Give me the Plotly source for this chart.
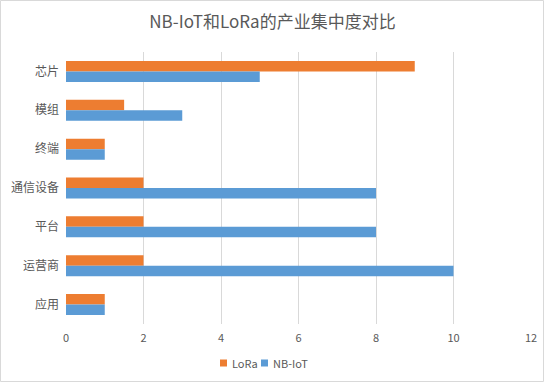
import plotly.graph_objects as go

categories = ["芯片", "模组", "终端", "通信设备", "平台", "运营商", "应用"]
lora = [9, 1.5, 1, 2, 2, 2, 1]
nbiot = [5, 3, 1, 8, 8, 10, 1]
x_ticks = [0, 2, 4, 6, 8, 10, 12]
series_names = ["LoRa", "NB-IoT"]
series_colors = ["#ED7D31", "#5B9BD5"]

W, H = 545, 383
ml, mr, mt, mb = 66, 14, 52, 59
pw, ph = W - ml - mr, H - mt - mb

font = "Noto Sans CJK SC, Noto Sans, sans-serif"
fig = go.Figure()
for name, vals, col in zip(series_names, [lora, nbiot], series_colors):
    fig.add_trace(go.Bar(y=categories, x=vals, orientation="h", name=name,
                         marker=dict(color=col, line=dict(width=0))))

def px_x(p):
    return (p - ml) / pw

def px_y(p):
    return 1 - (p - mt) / ph

legend_y = 363
shapes = [dict(type="rect", xref="paper", yref="paper",
               x0=px_x(0.5), x1=px_x(W - 1.5), y0=px_y(H - 1.5), y1=px_y(0.5),
               line=dict(color="#d9d9d9", width=1), layer="below")]
annotations = []
leg_x = [220, 261]
for lx, name, col in zip(leg_x, series_names, series_colors):
    shapes.append(dict(type="rect", xref="paper", yref="paper",
                       x0=px_x(lx), x1=px_x(lx + 7), y0=px_y(legend_y + 3.5), y1=px_y(legend_y - 3.5),
                       fillcolor=col, line=dict(width=0)))
    annotations.append(dict(text=name, xref="paper", yref="paper", x=px_x(lx + 10), y=px_y(legend_y),
                            xanchor="left", yanchor="middle", showarrow=False,
                            font=dict(size=11, color="#595959", family=font)))

fig.update_layout(
    width=W, height=H,
    margin=dict(l=ml, r=mr, t=mt, b=mb, autoexpand=False),
    paper_bgcolor="white", plot_bgcolor="white",
    barmode="group", bargap=0.46, bargroupgap=0,
    font=dict(family=font, color="#595959", size=12),
    title=dict(text="NB-IoT和LoRa的产业集中度对比", x=0.5, xanchor="center",
               xref="container", yref="container", y=1 - 22 / H, yanchor="middle",
               font=dict(size=17, color="#595959", family=font)),
    xaxis=dict(range=[0, 12], tickvals=x_ticks, showgrid=True, gridcolor="#d9d9d9",
               gridwidth=1, zeroline=False, showline=False, ticks="", automargin=False,
               ticklabelstandoff=6, tickfont=dict(size=11, color="#595959")),
    yaxis=dict(autorange="reversed", showgrid=False, zeroline=False, showline=False,
               ticks="", automargin=False, ticklabelstandoff=6,
               tickfont=dict(size=12, color="#595959")),
    showlegend=False,
    shapes=shapes,
    annotations=annotations,
)
fig.write_html("out.html", config={"displayModeBar": False},
               post_script="document.body.style.margin='0';document.body.style.padding='0';")
